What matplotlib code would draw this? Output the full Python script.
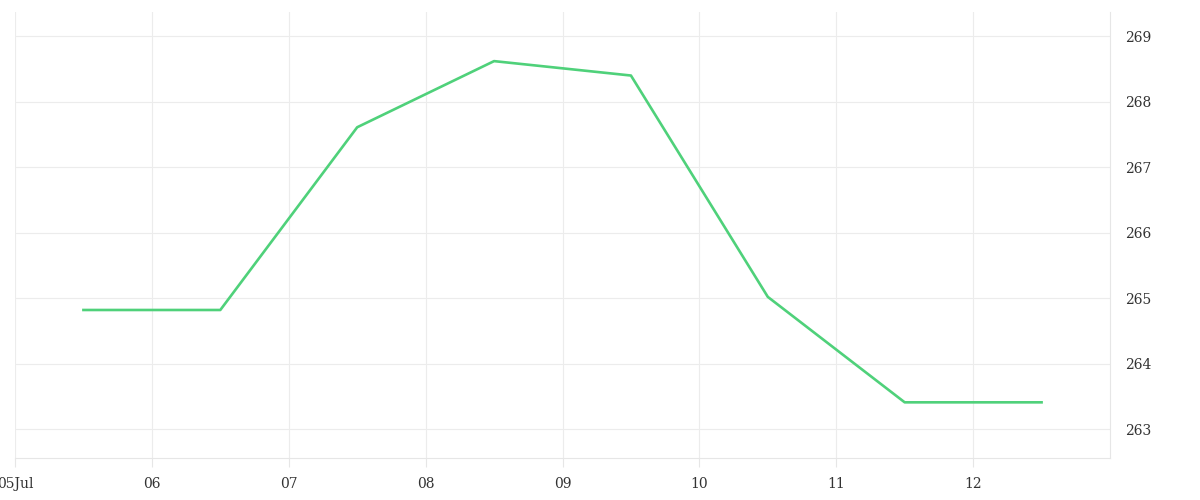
import numpy as np
import matplotlib.pyplot as plt
import matplotlib.dates as mdates
from datetime import datetime

# Datos
fechas = ['2024-07-05 12:00', '2024-07-06 12:00', '2024-07-07 12:00', '2024-07-08 12:00',
          '2024-07-09 12:00', '2024-07-10 12:00', '2024-07-11 12:00', '2024-07-12 12:00']
valores = [264.82, 264.82, 267.61, 268.62, 268.40, 265.02, 263.41, 263.41]
ticks_x = ['2024-07-05', '2024-07-06', '2024-07-07', '2024-07-08',
           '2024-07-09', '2024-07-10', '2024-07-11', '2024-07-12']
etiquetas_x = ['05Jul', '06', '07', '08', '09', '10', '11', '12']
ticks_y = [263, 264, 265, 266, 267, 268, 269]

x = [datetime.strptime(f, '%Y-%m-%d %H:%M') for f in fechas]
xt = [datetime.strptime(t, '%Y-%m-%d') for t in ticks_x]

plt.rcParams['font.family'] = ['DejaVu Serif']

fig = plt.figure(figsize=(12, 5), dpi=100)
ax = fig.add_axes([15 / 1200, 42 / 500, 1095 / 1200, 446 / 500])

ax.plot(x, valores, color='#4fd17a', linewidth=1.9)

ax.set_xlim(datetime(2024, 7, 5), datetime(2024, 7, 13))
ax.set_ylim(262.56, 269.37)

ax.set_xticks(xt)
ax.set_xticklabels(etiquetas_x)
ax.set_yticks(ticks_y)

ax.yaxis.tick_right()
ax.grid(True, color='#ececec', linewidth=0.8)

for s in ['left', 'top']:
    ax.spines[s].set_visible(False)
for s in ['right', 'bottom']:
    ax.spines[s].set_color('#e6e6e6')
    ax.spines[s].set_linewidth(0.8)

ax.tick_params(axis='x', length=6.5, color='#e6e6e6', width=0.8,
               labelsize=10, labelcolor='#333333', pad=7)
ax.tick_params(axis='y', length=0, labelsize=10, labelcolor='#333333', pad=11)

plt.savefig('out.png', dpi=100)
